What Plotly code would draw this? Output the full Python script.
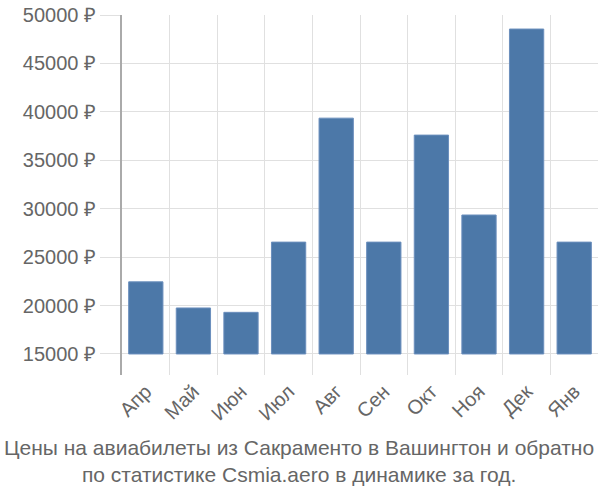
import plotly.graph_objects as go

months = ["Апр", "Май", "Июн", "Июл", "Авг", "Сен", "Окт", "Ноя", "Дек", "Янв"]
prices = [22450, 19750, 19300, 26550, 39350, 26550, 37600, 29350, 48550, 26550]
base_value = 15000
tick_values = [15000, 20000, 25000, 30000, 35000, 40000, 45000, 50000]
tick_labels = [f"{v} ₽" for v in tick_values]

fig = go.Figure(go.Bar(
    x=months,
    y=[p - base_value for p in prices],
    base=base_value,
    marker=dict(color="#4c78a8", line=dict(color="#6b8fbd", width=1)),
    width=0.72,
))

fig.update_layout(
    width=600, height=500,
    margin=dict(l=122, r=2, t=15, b=125),
    paper_bgcolor="white", plot_bgcolor="white",
    font=dict(family="Liberation Sans, Arial, sans-serif", size=20, color="#666666"),
    showlegend=False,
    annotations=[dict(
        text="Цены на авиабилеты из Сакраменто в Вашингтон и обратно<br>по статистике Csmia.aero в динамике за год.",
        xref="paper", yref="paper", x=0.5, y=-0.165, xanchor="center", yanchor="top",
        xshift=-61, showarrow=False, font=dict(size=21, color="#666666"), align="center",
    )],
)

fig.update_xaxes(
    type="category", tickson="boundaries", showgrid=True, gridcolor="#e0e0e0", gridwidth=1,
    ticks="", tickangle=-45, showline=False, zeroline=False,
    tickfont=dict(size=20, color="#666666"),
)
fig.update_yaxes(
    range=[12830, 50000], tickvals=tick_values, ticktext=tick_labels,
    showgrid=True, gridcolor="#e0e0e0", gridwidth=1,
    ticks="outside", ticklen=20, tickcolor="#e0e0e0",
    showline=True, linecolor="#aaaaaa", linewidth=2, zeroline=False,
    tickfont=dict(size=20, color="#666666"),
)

fig.write_html("out.html")
